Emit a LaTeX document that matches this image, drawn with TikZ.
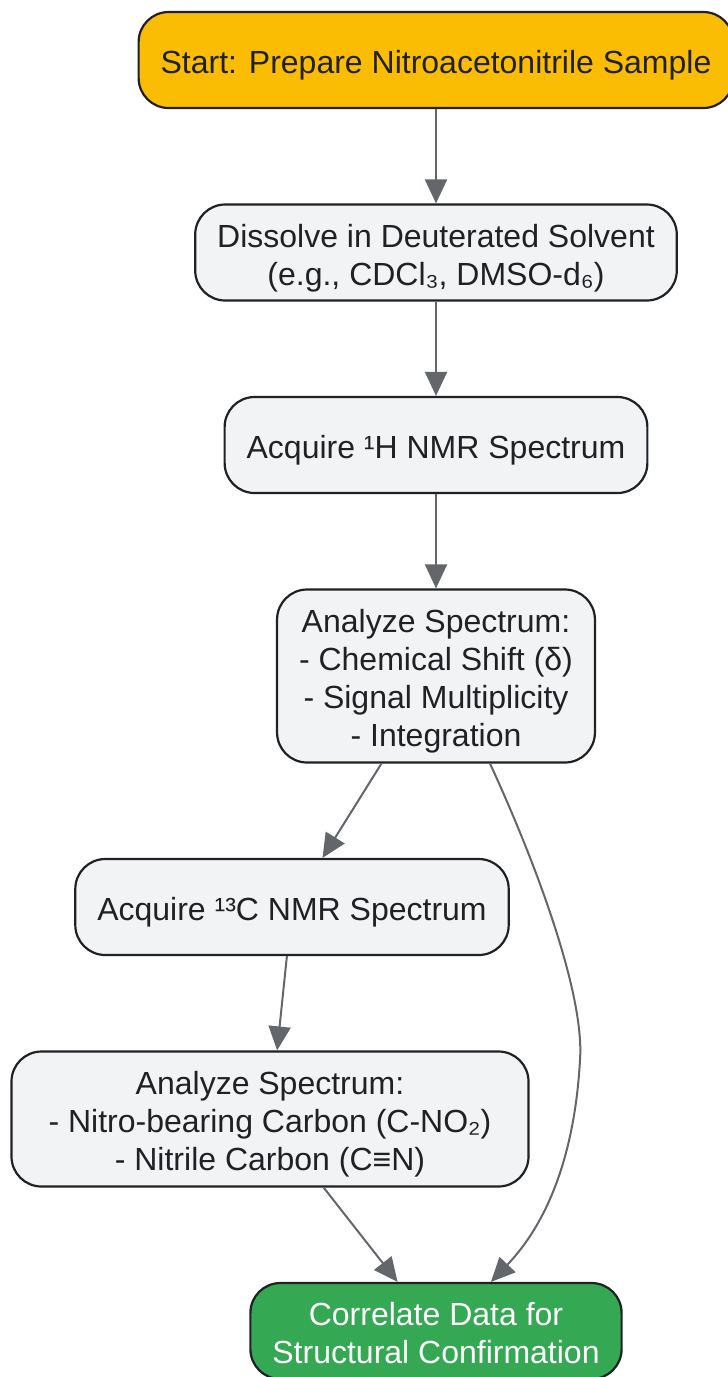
\documentclass[tikz,border=0pt]{standalone}
\usepackage{fontspec}
\setmainfont{Liberation Sans}
\usetikzlibrary{arrows.meta,positioning,shapes.geometric}

\definecolor{startfill}{HTML}{FBBC04}
\definecolor{endfill}{HTML}{34A853}
\definecolor{stepfill}{HTML}{F1F3F4}
\definecolor{boxline}{HTML}{202124}
\definecolor{flowline}{HTML}{63666A}

% fixed struts for the first and last line of a box
\newcommand{\hiline}{\rule{0pt}{34pt}}
\newcommand{\loline}{\rule[-7pt]{0pt}{7pt}}

\tikzset{
    stepbox/.style={
        draw=boxline, line width=2.2pt, fill=stepfill,
        rounded corners=30pt, align=center, text=boxline,
        inner xsep=22pt, inner ysep=4pt, minimum height=96pt,
        font=\fontsize{32}{38}\selectfont
    },
    startbox/.style={stepbox, fill=startfill},
    endbox/.style={stepbox, fill=endfill, text=white},
    flow/.style={draw=flowline, line width=2pt}
}

\begin{document}
\begin{tikzpicture}[
    ->,
    >={Triangle[length=24pt,width=22pt]},
    node distance=94.3pt,
    x=1pt, y=1pt
]
    \useasboundingbox (0,0) rectangle (728,-1377);

    \node[startbox] (Start) at (436,-60) {\hiline Start: Prepare Nitroacetonitrile Sample\loline};
    \node[stepbox] (Dissolve) [below=of Start] {\hiline Dissolve in Deuterated Solvent\\(e.g., CDCl₃, DMSO-d₆)\loline};
    \node[stepbox] (AcqH) [below=of Dissolve] {\hiline Acquire ¹H NMR Spectrum\loline};
    \node[stepbox, minimum height=173pt] (AnaH) [below=of AcqH] {\hiline Analyze Spectrum:\\- Chemical Shift (δ)\\- Signal Multiplicity\\- Integration\loline};
    \node[stepbox] (AcqC) [below=of AnaH, xshift=-144pt] {\hiline Acquire ¹³C NMR Spectrum\loline};
    \node[stepbox, minimum height=135pt, minimum width=517pt] (AnaC) [below=of AcqC, xshift=-22pt] {\hiline Analyze Spectrum:\\- Nitro-bearing Carbon (C-NO₂)\\- Nitrile Carbon (C≡N)\loline};
    \node[endbox] (Correlate) [below=of AnaC, xshift=166pt] {\hiline Correlate Data for\\Structural Confirmation\loline};

    \path
        (Start) edge[flow] (Dissolve)
        (Dissolve) edge[flow] (AcqH)
        (AcqH) edge[flow] (AnaH)
        (AnaH) edge[flow] (AcqC)
        (AcqC) edge[flow] (AnaC)
        (AnaC) edge[flow] (Correlate);

    % shortcut from the proton analysis straight down
    \draw[flow] ([xshift=54pt]AnaH.south) .. controls (530,-850) and (585,-990) .. (580,-1060)
        .. controls (575,-1150) and (550,-1220) .. ([xshift=55pt]Correlate.north);
\end{tikzpicture}
\end{document}
